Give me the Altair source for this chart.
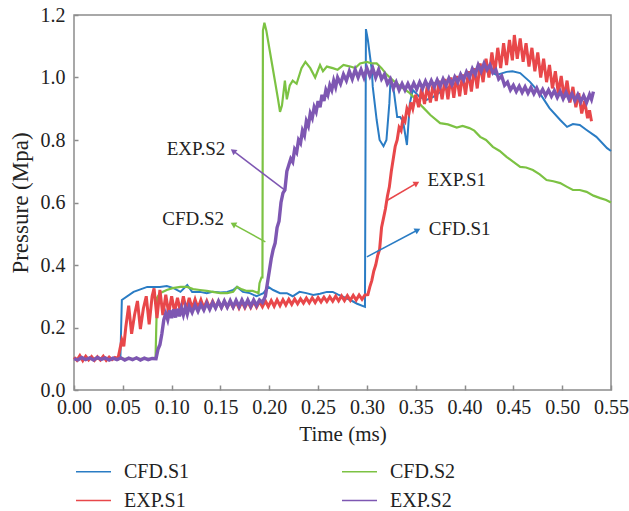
import math
import altair as alt
import pandas as pd

# ---------------- data ----------------
cfd_s1_t = [0.000, 0.0475, 0.049, 0.061, 0.075, 0.088, 0.095, 0.102, 0.109, 0.116, 0.121, 0.129,
            0.136, 0.142, 0.150, 0.157, 0.163, 0.167, 0.173, 0.180, 0.187, 0.194, 0.199, 0.204,
            0.211, 0.218, 0.224, 0.231, 0.238, 0.245, 0.252, 0.259, 0.265, 0.270, 0.276, 0.283,
            0.290, 0.298, 0.2985, 0.299, 0.301, 0.305, 0.306, 0.310, 0.313, 0.317, 0.320, 0.323,
            0.324, 0.327, 0.331, 0.334, 0.337, 0.341, 0.344, 0.347, 0.354, 0.361, 0.368, 0.378,
            0.388, 0.398, 0.409, 0.423, 0.433, 0.443, 0.449, 0.457, 0.467, 0.477, 0.487, 0.498,
            0.505, 0.511, 0.518, 0.525, 0.535, 0.546, 0.550]
cfd_s1_p = [0.100, 0.100, 0.288, 0.314, 0.330, 0.330, 0.333, 0.326, 0.314, 0.336, 0.314, 0.314,
            0.310, 0.314, 0.312, 0.314, 0.320, 0.330, 0.314, 0.310, 0.300, 0.310, 0.330, 0.320,
            0.310, 0.310, 0.300, 0.314, 0.310, 0.304, 0.308, 0.314, 0.314, 0.306, 0.298, 0.288,
            0.276, 0.266, 0.700, 1.155, 1.120, 1.024, 0.970, 0.864, 0.800, 0.780, 0.800, 0.918,
            0.980, 0.970, 0.874, 0.874, 0.860, 0.784, 0.918, 0.960, 0.938, 0.928, 0.938, 0.960,
            0.976, 1.000, 1.024, 1.024, 1.008, 1.018, 1.020, 1.014, 0.986, 0.950, 0.902, 0.864,
            0.842, 0.851, 0.848, 0.832, 0.810, 0.774, 0.765]

cfd_s2_t = [0.000, 0.0835, 0.085, 0.088, 0.095, 0.101, 0.109, 0.116, 0.122, 0.129, 0.136, 0.142,
            0.150, 0.157, 0.163, 0.167, 0.172, 0.177, 0.183, 0.189, 0.190, 0.192, 0.193, 0.1935,
            0.195, 0.197, 0.200, 0.203, 0.206, 0.209, 0.211, 0.213, 0.216, 0.218, 0.221, 0.224,
            0.228, 0.233, 0.237, 0.242, 0.247, 0.252, 0.255, 0.259, 0.265, 0.270, 0.276, 0.283,
            0.288, 0.293, 0.300, 0.305, 0.310, 0.315, 0.320, 0.327, 0.335, 0.344, 0.350, 0.357,
            0.365, 0.375, 0.383, 0.392, 0.398, 0.405, 0.410, 0.416, 0.422, 0.429, 0.436, 0.443,
            0.450, 0.457, 0.463, 0.470, 0.477, 0.484, 0.491, 0.498, 0.505, 0.511, 0.518, 0.525,
            0.532, 0.539, 0.545, 0.550]
cfd_s2_p = [0.100, 0.100, 0.295, 0.310, 0.320, 0.326, 0.330, 0.330, 0.323, 0.320, 0.317, 0.314,
            0.310, 0.310, 0.314, 0.330, 0.322, 0.317, 0.317, 0.310, 0.342, 0.360, 0.360, 1.150,
            1.175, 1.150, 1.095, 1.040, 0.985, 0.930, 0.890, 0.910, 0.990, 0.930, 0.975, 0.990,
            0.980, 1.030, 1.050, 1.030, 1.000, 1.040, 1.020, 1.035, 1.030, 1.025, 1.040, 1.035,
            1.030, 1.045, 1.050, 1.045, 1.045, 1.030, 1.010, 0.990, 0.970, 0.950, 0.930, 0.906,
            0.880, 0.854, 0.850, 0.840, 0.845, 0.838, 0.830, 0.810, 0.800, 0.778, 0.765, 0.746,
            0.730, 0.714, 0.712, 0.704, 0.690, 0.672, 0.668, 0.662, 0.650, 0.640, 0.640, 0.634,
            0.622, 0.614, 0.608, 0.600]

exp_s1_t = [0.000, 0.003, 0.006, 0.009, 0.012, 0.015, 0.018, 0.021, 0.024, 0.027, 0.030, 0.033,
            0.036, 0.039, 0.042, 0.045, 0.047, 0.049, 0.051, 0.053, 0.056, 0.059, 0.062, 0.065,
            0.068, 0.071, 0.074, 0.077, 0.080, 0.082, 0.085, 0.088, 0.091, 0.094, 0.097, 0.100,
            0.103, 0.106, 0.109, 0.112, 0.115, 0.118, 0.121, 0.124, 0.127, 0.130, 0.133, 0.136,
            0.139, 0.142, 0.145, 0.148, 0.151, 0.154, 0.157, 0.160, 0.163, 0.166, 0.169, 0.172,
            0.175, 0.178, 0.181, 0.184, 0.187, 0.190, 0.193, 0.196, 0.199, 0.202, 0.205, 0.208,
            0.211, 0.214, 0.217, 0.220, 0.223, 0.226, 0.229, 0.232, 0.235, 0.238, 0.241, 0.244,
            0.247, 0.250, 0.253, 0.256, 0.259, 0.262, 0.265, 0.268, 0.271, 0.274, 0.277, 0.280,
            0.283, 0.286, 0.289, 0.292, 0.295, 0.298, 0.301, 0.303, 0.305, 0.307, 0.309, 0.311,
            0.313, 0.315, 0.317, 0.319, 0.321, 0.323, 0.325, 0.327, 0.329, 0.331, 0.333, 0.335,
            0.337, 0.339, 0.341, 0.343, 0.345, 0.347, 0.350, 0.353, 0.356, 0.359, 0.362, 0.365,
            0.368, 0.371, 0.374, 0.377, 0.380, 0.383, 0.386, 0.389, 0.392, 0.395, 0.398, 0.401,
            0.404, 0.407, 0.410, 0.413, 0.416, 0.419, 0.422, 0.425, 0.428, 0.431, 0.434, 0.437,
            0.440, 0.443, 0.446, 0.449, 0.451, 0.454, 0.457, 0.460, 0.463, 0.466, 0.469, 0.472,
            0.475, 0.478, 0.481, 0.484, 0.487, 0.490, 0.493, 0.496, 0.499, 0.502, 0.505, 0.508,
            0.511, 0.514, 0.517, 0.520, 0.523, 0.526, 0.528, 0.530]
exp_s1_p = [0.105, 0.095, 0.110, 0.094, 0.108, 0.096, 0.107, 0.095, 0.106, 0.096, 0.108, 0.095,
            0.105, 0.097, 0.104, 0.100, 0.130, 0.160, 0.140, 0.200, 0.270, 0.180, 0.240, 0.285,
            0.195, 0.260, 0.300, 0.210, 0.300, 0.325, 0.230, 0.320, 0.240, 0.305, 0.245, 0.300,
            0.250, 0.295, 0.250, 0.300, 0.255, 0.295, 0.260, 0.290, 0.262, 0.288, 0.262, 0.285,
            0.262, 0.284, 0.264, 0.283, 0.264, 0.283, 0.265, 0.282, 0.264, 0.282, 0.262, 0.282,
            0.263, 0.283, 0.264, 0.283, 0.265, 0.283, 0.266, 0.285, 0.267, 0.286, 0.268, 0.288,
            0.270, 0.289, 0.272, 0.290, 0.274, 0.291, 0.276, 0.292, 0.278, 0.294, 0.279, 0.295,
            0.280, 0.296, 0.282, 0.297, 0.283, 0.298, 0.284, 0.300, 0.285, 0.301, 0.286, 0.302,
            0.287, 0.303, 0.288, 0.304, 0.290, 0.304, 0.305, 0.330, 0.350, 0.380, 0.400, 0.430,
            0.450, 0.520, 0.550, 0.580, 0.620, 0.650, 0.700, 0.740, 0.780, 0.800, 0.840, 0.830,
            0.870, 0.860, 0.900, 0.885, 0.920, 0.900, 0.945, 0.905, 0.965, 0.915, 0.975, 0.920,
            0.985, 0.925, 0.990, 0.930, 0.995, 0.930, 1.000, 0.935, 1.005, 0.940, 1.010, 0.945,
            1.020, 0.955, 1.030, 0.965, 1.045, 0.985, 1.060, 1.000, 1.080, 1.015, 1.095, 1.030,
            1.110, 1.040, 1.120, 1.055, 1.136, 1.060, 1.125, 1.050, 1.110, 1.035, 1.095, 1.020,
            1.080, 1.000, 1.060, 0.985, 1.040, 0.965, 1.020, 0.950, 1.005, 0.935, 0.990, 0.920,
            0.970, 0.905, 0.950, 0.885, 0.925, 0.870, 0.895, 0.860]

exp_s2_t = [0.000, 0.004, 0.008, 0.012, 0.016, 0.020, 0.024, 0.028, 0.032, 0.036, 0.040, 0.044,
            0.048, 0.052, 0.056, 0.060, 0.064, 0.068, 0.072, 0.076, 0.080, 0.084, 0.086, 0.088,
            0.090, 0.092, 0.094, 0.096, 0.098, 0.100, 0.102, 0.104, 0.106, 0.108, 0.110, 0.112,
            0.114, 0.116, 0.118, 0.121, 0.124, 0.127, 0.130, 0.133, 0.136, 0.139, 0.142, 0.145,
            0.148, 0.151, 0.154, 0.157, 0.160, 0.163, 0.166, 0.169, 0.172, 0.175, 0.178, 0.181,
            0.184, 0.187, 0.190, 0.193, 0.196, 0.198, 0.200, 0.202, 0.204, 0.206, 0.208, 0.210,
            0.212, 0.214, 0.216, 0.218, 0.220, 0.222, 0.224, 0.226, 0.228, 0.230, 0.232, 0.234,
            0.236, 0.238, 0.240, 0.242, 0.244, 0.246, 0.248, 0.250, 0.252, 0.254, 0.256, 0.258,
            0.260, 0.262, 0.264, 0.266, 0.268, 0.270, 0.273, 0.276, 0.279, 0.282, 0.285, 0.288,
            0.291, 0.294, 0.297, 0.300, 0.303, 0.306, 0.309, 0.312, 0.315, 0.318, 0.321, 0.324,
            0.327, 0.330, 0.333, 0.336, 0.339, 0.342, 0.345, 0.348, 0.351, 0.354, 0.357, 0.360,
            0.363, 0.366, 0.369, 0.372, 0.375, 0.378, 0.381, 0.384, 0.387, 0.390, 0.393, 0.396,
            0.399, 0.402, 0.405, 0.408, 0.411, 0.414, 0.417, 0.420, 0.423, 0.426, 0.429, 0.432,
            0.435, 0.438, 0.441, 0.444, 0.447, 0.450, 0.453, 0.456, 0.459, 0.462, 0.465, 0.468,
            0.471, 0.474, 0.477, 0.480, 0.483, 0.486, 0.489, 0.492, 0.495, 0.498, 0.501, 0.504,
            0.507, 0.510, 0.513, 0.516, 0.519, 0.522, 0.525, 0.528, 0.530, 0.532]
exp_s2_p = [0.100, 0.096, 0.104, 0.097, 0.103, 0.096, 0.104, 0.098, 0.103, 0.096, 0.102, 0.097,
            0.103, 0.096, 0.102, 0.097, 0.103, 0.096, 0.102, 0.097, 0.101, 0.100, 0.130, 0.145,
            0.180, 0.225, 0.245, 0.225, 0.255, 0.230, 0.258, 0.232, 0.260, 0.236, 0.262, 0.240,
            0.265, 0.243, 0.268, 0.248, 0.272, 0.252, 0.274, 0.256, 0.278, 0.258, 0.280, 0.262,
            0.284, 0.264, 0.285, 0.265, 0.286, 0.266, 0.287, 0.267, 0.288, 0.268, 0.288, 0.268,
            0.288, 0.270, 0.288, 0.280, 0.300, 0.340, 0.380, 0.420, 0.450, 0.470, 0.520, 0.540,
            0.600, 0.630, 0.640, 0.700, 0.720, 0.740, 0.730, 0.770, 0.760, 0.800, 0.790, 0.830,
            0.815, 0.860, 0.845, 0.885, 0.870, 0.905, 0.890, 0.925, 0.905, 0.945, 0.925, 0.960,
            0.945, 0.975, 0.960, 0.990, 0.970, 1.000, 0.980, 1.010, 0.990, 1.020, 0.995, 1.025,
            1.000, 1.025, 1.000, 1.030, 1.005, 1.030, 1.000, 1.025, 0.995, 1.010, 0.980, 0.995,
            0.965, 0.985, 0.960, 0.980, 0.960, 0.980, 0.960, 0.982, 0.962, 0.985, 0.965, 0.988,
            0.968, 0.990, 0.970, 0.992, 0.972, 0.995, 0.975, 0.998, 0.978, 1.002, 0.985, 1.010,
            0.992, 1.018, 1.000, 1.028, 1.010, 1.040, 1.020, 1.045, 1.025, 1.040, 1.015, 1.025,
            0.995, 1.005, 0.975, 0.985, 0.960, 0.975, 0.955, 0.972, 0.952, 0.970, 0.950, 0.968,
            0.948, 0.966, 0.945, 0.962, 0.942, 0.960, 0.940, 0.958, 0.936, 0.955, 0.932, 0.952,
            0.930, 0.948, 0.926, 0.945, 0.922, 0.942, 0.920, 0.945, 0.930, 0.955]

# legend order (filled so that column 1 = CFD.S1/EXP.S1, column 2 = CFD.S2/EXP.S2)
series_names = ["CFD.S1", "EXP.S1", "CFD.S2", "EXP.S2"]
series_colors = ["#2a7cc4", "#e8474a", "#7cc243", "#7e57b2"]
x_ticks = [0.00, 0.05, 0.10, 0.15, 0.20, 0.25, 0.30, 0.35, 0.40, 0.45, 0.50, 0.55]
y_ticks = [0.0, 0.2, 0.4, 0.6, 0.8, 1.0, 1.2]

# annotations: label, text position, arrow tail, arrow tip
ann_labels = ["EXP.S2", "CFD.S2", "EXP.S1", "CFD.S1"]
ann_text_t = [0.125, 0.122, 0.392, 0.395]
ann_text_p = [0.771, 0.547, 0.672, 0.515]
ann_tail_t = [0.217, 0.196, 0.3215, 0.300]
ann_tail_p = [0.637, 0.474, 0.608, 0.426]
ann_tip_t = [0.163, 0.163, 0.351, 0.352]
ann_tip_p = [0.765, 0.531, 0.662, 0.512]
ann_colors = ["#7e57b2", "#7cc243", "#e8474a", "#2a7cc4"]

# ---------------- build ----------------
W, H = 537, 375
XMAX, YMAX = 0.55, 1.2
FONT = "Liberation Serif"

frames = []
for name, t, p in [("CFD.S1", cfd_s1_t, cfd_s1_p), ("CFD.S2", cfd_s2_t, cfd_s2_p),
                   ("EXP.S1", exp_s1_t, exp_s1_p), ("EXP.S2", exp_s2_t, exp_s2_p)]:
    frames.append(pd.DataFrame({"t": t, "p": p, "series": name, "i": range(len(t))}))
df = pd.concat(frames, ignore_index=True)

xscale = alt.Scale(domain=[0, XMAX], nice=False, zero=False)
yscale = alt.Scale(domain=[0, YMAX], nice=False, zero=False)
# legend colour scale (legend order)
cscale = alt.Scale(domain=series_names, range=series_colors)
# line stroke scale: same mapping, listed alphabetically so it is not merged with the legend
stroke_pairs = sorted(zip(series_names, series_colors))
sscale = alt.Scale(domain=[a for a, _ in stroke_pairs], range=[b for _, b in stroke_pairs])

xax = alt.Axis(values=x_ticks, format=".2f", title="Time (ms)", grid=False, domain=False,
               offset=-5, tickSize=5, tickColor="#8c8c8c", tickWidth=1.5,
               labelFont=FONT, labelFontSize=20, labelColor="#222", labelPadding=7,
               titleFont=FONT, titleFontSize=21, titleFontWeight="normal", titleColor="#222",
               titlePadding=6, labelFlush=False)
yax = alt.Axis(values=y_ticks, format=".1f", title="Pressure (Mpa)", grid=False, domain=False,
               offset=-4, tickSize=4, tickColor="#8c8c8c", tickWidth=1.5,
               labelFont=FONT, labelFontSize=20, labelColor="#222", labelPadding=9,
               titleFont=FONT, titleFontSize=23, titleFontWeight="normal", titleColor="#222",
               titlePadding=8)

legend = alt.Legend(title=None, orient="none", legendX=1, legendY=438, columns=2,
                    symbolType="stroke", symbolSize=1225, symbolStrokeWidth=1.5,
                    labelFont=FONT, labelFontSize=20, labelColor="#222", labelOffset=12,
                    columnPadding=149, rowPadding=-14)

widths = {"CFD.S1": 2.0, "CFD.S2": 2.2, "EXP.S1": 3.0, "EXP.S2": 3.4}
layers = []
for name in ["CFD.S1", "CFD.S2", "EXP.S1", "EXP.S2"]:
    layers.append(
        alt.Chart(df).transform_filter(alt.datum.series == name)
        .mark_line(strokeWidth=widths[name], interpolate="linear")
        .encode(x=alt.X("t:Q", scale=xscale, axis=xax),
                y=alt.Y("p:Q", scale=yscale, axis=yax),
                stroke=alt.Stroke("series:N", scale=sscale, legend=None),
                order="i:Q")
    )

# legend-only layer: a single point per series draws no visible line
legend_layer = alt.Chart(df).transform_filter(alt.datum.i == 0).mark_line(strokeWidth=1.5).encode(
    x=alt.X("t:Q", scale=xscale, axis=xax), y=alt.Y("p:Q", scale=yscale, axis=yax),
    color=alt.Color("series:N", scale=cscale, legend=legend))

# arrows
def ang(i):
    dx = (ann_tip_t[i] - ann_tail_t[i]) / XMAX * W
    dy = -(ann_tip_p[i] - ann_tail_p[i]) / YMAX * H
    return math.degrees(math.atan2(dx, -dy)) % 360

ann = pd.DataFrame({
    "label": ann_labels, "tx": ann_text_t, "ty": ann_text_p,
    "x0": ann_tail_t, "y0": ann_tail_p, "x1": ann_tip_t, "y1": ann_tip_p,
    "col": ann_colors, "angle": [ang(i) for i in range(len(ann_labels))],
})

ann_layers = []
for k, c in enumerate(ann_colors):
    sub = ann.iloc[[k]]
    ann_layers.append(alt.Chart(sub).mark_rule(strokeWidth=1.5, color=c).encode(
        x=alt.X("x0:Q", scale=xscale, axis=xax), y=alt.Y("y0:Q", scale=yscale, axis=yax),
        x2="x1:Q", y2="y1:Q"))
    ann_layers.append(alt.Chart(sub).mark_point(shape="triangle-up", filled=True, size=45,
                                                opacity=1, color=c).encode(
        x=alt.X("x1:Q", scale=xscale, axis=xax), y=alt.Y("y1:Q", scale=yscale, axis=yax),
        angle=alt.Angle("angle:Q", scale=None)))
texts = alt.Chart(ann).mark_text(font=FONT, fontSize=19, color="#222", align="center",
                                 baseline="middle").encode(
    x=alt.X("tx:Q", scale=xscale, axis=xax), y=alt.Y("ty:Q", scale=yscale, axis=yax),
    text="label:N")

chart = alt.layer(*layers, legend_layer, *ann_layers, texts).properties(
    width=W, height=H,
    autosize=alt.AutoSizeParams(type="none"),
    padding={"left": 74, "top": 15, "right": 18, "bottom": 121},
    background="white",
).configure_view(stroke="#8c8c8c", strokeWidth=1.5)

chart.save("out.html", embed_options={"renderer": "svg", "actions": False})
